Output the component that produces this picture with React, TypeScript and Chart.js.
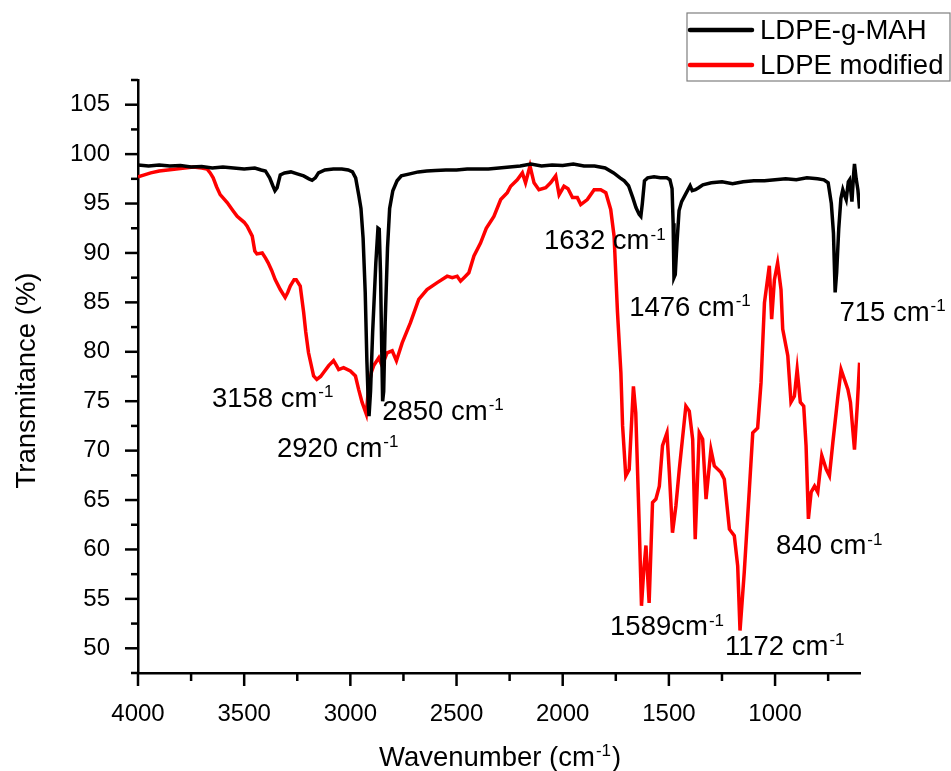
import React, { useEffect, useRef } from "react";
import { Chart, registerables } from "chart.js";

Chart.register(...registerables);

const FONT = '"Liberation Sans", Arial, Helvetica, sans-serif';

// LDPE-g-MAH (black)
const blackWn = [
  4000, 3950, 3900, 3850, 3800, 3750, 3700, 3650, 3600, 3550, 3500, 3450, 3420, 3400, 3380, 3365, 3355, 3345, 3330,
  3310, 3280, 3250, 3220, 3195, 3180, 3165, 3150, 3120, 3080, 3040, 3010, 2990, 2975, 2960, 2950, 2940, 2930, 2922,
  2915, 2912, 2905, 2895, 2880, 2870, 2864, 2858, 2852, 2848, 2843, 2836, 2825, 2815, 2800, 2780, 2760, 2720, 2680,
  2640, 2600, 2550, 2500, 2450, 2400, 2350, 2300, 2250, 2200, 2150, 2100, 2050, 2000, 1950, 1900, 1850, 1800, 1760,
  1730, 1710, 1690, 1670, 1655, 1640, 1632, 1625, 1615, 1600, 1570, 1540, 1510, 1495, 1485, 1480, 1476, 1470, 1462,
  1452, 1440, 1420, 1400, 1390, 1375, 1360, 1340, 1300, 1250, 1200, 1150, 1100, 1050, 1000, 950, 900, 850, 800, 770,
  750, 735, 725, 717, 710, 700, 690, 681, 672, 665, 655, 649, 638, 630, 626, 618, 610, 602,
];
const blackT = [
  98.9, 98.8, 98.9, 98.8, 98.85, 98.7, 98.75, 98.6, 98.7, 98.6, 98.5, 98.6, 98.4, 98.3, 97.6, 96.8, 96.3, 96.6, 97.9,
  98.1, 98.2, 98.0, 97.8, 97.5, 97.35, 97.6, 98.1, 98.4, 98.5, 98.5, 98.4, 98.2, 97.6, 95.8, 94.5, 91.5, 86, 79,
  74.5, 73.5, 76, 82, 89, 92.5, 92.4, 88, 80, 75, 76, 83, 90.5, 94.5, 96.3, 97.3, 97.8, 98.0, 98.2,
  98.3, 98.35, 98.4, 98.4, 98.5, 98.5, 98.5, 98.6, 98.7, 98.8, 99.0, 98.8, 98.9, 98.85, 99.0, 98.8, 98.8, 98.6, 98.1,
  97.6, 97.3, 96.8, 95.6, 94.6, 93.9, 93.7, 95.0, 97.3, 97.6, 97.7, 97.6, 97.6, 97.4, 96.5, 93, 87.5, 87.8, 91,
  94.3, 95.2, 96.0, 96.8, 96.3, 96.4, 96.6, 96.9, 97.1, 97.2, 97.0, 97.2, 97.3, 97.3, 97.4, 97.5, 97.4, 97.6, 97.5, 97.4,
  97.1, 95, 92, 86.0, 88, 92.5, 95.5, 96.4, 95.8, 95.4, 97.2, 97.4, 95.2, 98, 99.0, 97.5, 96.4, 94.5,
];

// LDPE modified (red)
const redWn = [
  4000, 3970, 3940, 3900, 3860, 3820, 3780, 3740, 3700, 3675, 3660, 3646, 3630, 3613, 3580, 3550, 3533, 3500, 3486,
  3462, 3450, 3440, 3415, 3400, 3387, 3370, 3354, 3330, 3307, 3295, 3283, 3265, 3255, 3236, 3220, 3210, 3197, 3173,
  3158, 3140, 3126, 3102, 3079, 3065, 3055, 3032, 3000, 2976, 2961, 2945, 2925, 2914, 2900, 2890, 2866, 2851, 2827,
  2803, 2783, 2756, 2717, 2678, 2639, 2591, 2544, 2520, 2497, 2481, 2460, 2442, 2418, 2387, 2360, 2324, 2292, 2261,
  2245, 2214, 2190, 2175, 2154, 2135, 2112, 2080, 2057, 2033, 2017, 1994, 1975, 1954, 1931, 1915, 1884, 1852, 1821,
  1797, 1774, 1758, 1742, 1726, 1718, 1703, 1687, 1667, 1656, 1640, 1629, 1618, 1608, 1593, 1577, 1561, 1545, 1530,
  1509, 1498, 1483, 1467, 1451, 1420, 1404, 1388, 1376, 1357, 1341, 1325, 1302, 1286, 1255, 1239, 1215, 1192, 1176,
  1165, 1145, 1121, 1105, 1082, 1066, 1050, 1027, 1016, 1003, 988, 972, 964, 940, 925, 909, 896, 881, 865, 854, 843,
  830, 814, 799, 780, 759, 744, 728, 704, 689, 673, 657, 645, 626, 613, 602,
];
const redT = [
  97.7, 97.9, 98.1, 98.3, 98.4, 98.5, 98.6, 98.7, 98.6, 98.5, 98.1, 97.6, 96.7, 95.9, 95.1, 94.2, 93.7, 93.1, 92.7,
  91.7, 90.2, 89.9, 90.0, 89.5, 89.0, 88.2, 87.3, 86.3, 85.5, 86.0, 86.65, 87.3, 87.3, 86.65, 84.0, 82, 79.9, 77.55,
  77.2, 77.5, 77.9, 78.6, 79.1, 78.6, 78.2, 78.4, 78.05, 77.55, 76.2, 74.9, 73.7, 76.5, 78, 78.6, 79.4, 78.6, 79.9,
  80.1, 79.1, 80.9, 82.95, 85.3, 86.3, 87.0, 87.65, 87.5, 87.65, 87.15, 87.6, 88.0, 89.7, 91.0, 92.5, 93.7, 95.4, 96.1,
  96.75, 97.4, 98.1, 97.1, 98.8, 97.1, 96.4, 96.6, 97.1, 97.8, 95.9, 96.75, 96.5, 95.6, 95.6, 94.9, 95.4, 96.4, 96.4,
  96.1, 94.4, 91.7, 84, 77.9, 72.5, 67.45, 68.1, 76.5, 73.85, 62.7, 54.3, 58, 60.4, 54.6, 64.75, 65.1, 66.4, 70.5,
  71.8, 67.8, 61.7, 64.4, 68.1, 74.5, 74.0, 71.15, 61.05, 71.8, 71.15, 65.1, 70.1, 68.45, 67.8, 67.1, 62.05, 61.4, 58.35,
  51.8, 57.7, 66.1, 71.8, 72.3, 76.9, 84.95, 88.7, 83.3, 87.3, 89.0, 86.3, 82.3, 79.6, 74.9, 75.5, 78.2, 74.9, 74.5, 70.5, 63.1,
  65.8, 66.4, 65.8, 69.5, 68.1, 67.45, 70.8, 75.5, 78.2, 77.2, 76.2, 74.9, 70.1, 74.5, 78.9,
];

const seriesNames = ["LDPE-g-MAH", "LDPE modified"];
const seriesColors = ["#000000", "#ff0000"];

// axis ticks (minor every 250 / 2.5, labelled every 500 / 5)
const xTickValues = [
  4000, 3750, 3500, 3250, 3000, 2750, 2500, 2250, 2000, 1750, 1500, 1250, 1000, 750,
];
const yTickValues = [
  47.5, 50, 52.5, 55, 57.5, 60, 62.5, 65, 67.5, 70, 72.5, 75, 77.5, 80, 82.5, 85, 87.5, 90, 92.5, 95, 97.5, 100,
  102.5, 105, 107.5,
];

// peak annotations: text, anchor (left/baseline) in data coordinates
const peakTexts = ["3158 cm", "2920 cm", "2850 cm", "1632 cm", "1476 cm", "715 cm", "1589cm", "1172 cm", "840 cm"];
const peakWn = [3652, 3346, 2850, 2088, 1687, 697, 1777, 1236, 995];
const peakT = [74.4, 69.4, 73.1, 90.35, 83.6, 83.1, 51.3, 49.35, 59.5];

const xTitle = "Wavenumber (cm";
const yTitle = "Transmitance (%)";

function drawSup(ctx: CanvasRenderingContext2D, text: string, x: number, y: number, size: number, align: "left" | "center") {
  const supSize = Math.round(size * 0.62);
  ctx.font = `${size}px ${FONT}`;
  const w1 = ctx.measureText(text).width;
  ctx.font = `${supSize}px ${FONT}`;
  const w2 = ctx.measureText("-1").width;
  let x0 = x;
  if (align === "center") x0 = x - (w1 + w2 + 1) / 2;
  ctx.textAlign = "left";
  ctx.textBaseline = "alphabetic";
  ctx.font = `${size}px ${FONT}`;
  ctx.fillText(text, x0, y);
  ctx.font = `${supSize}px ${FONT}`;
  ctx.fillText("-1", x0 + w1 + 1, y - size * 0.36);
  return x0 + w1 + 1 + w2;
}

const decorPlugin = {
  id: "decor",
  afterDraw(chart: any) {
    const ctx: CanvasRenderingContext2D = chart.ctx;
    const xs = chart.scales.x;
    const ys = chart.scales.y;
    const area = chart.chartArea;
    ctx.save();
    ctx.strokeStyle = "#000";
    ctx.fillStyle = "#000";
    ctx.lineWidth = 2.5;
    // x ticks
    xs.ticks.forEach((t: any) => {
      const px = xs.getPixelForValue(t.value);
      const len = t.value % 500 === 0 ? 13 : 8;
      ctx.beginPath();
      ctx.moveTo(px, area.bottom);
      ctx.lineTo(px, area.bottom + len);
      ctx.stroke();
    });
    // y ticks
    ys.ticks.forEach((t: any) => {
      const py = ys.getPixelForValue(t.value);
      const len = t.value % 5 === 0 ? 13 : 7;
      ctx.beginPath();
      ctx.moveTo(area.left, py);
      ctx.lineTo(area.left - len, py);
      ctx.stroke();
    });
    // peak labels
    peakTexts.forEach((txt, i) => {
      const px = xs.getPixelForValue(peakWn[i]);
      const py = ys.getPixelForValue(peakT[i]);
      drawSup(ctx, txt, px, py, 27.5, "left");
    });
    // x title
    const cx = (area.left + area.right) / 2;
    const end = drawSup(ctx, xTitle, cx - 4, 766, 27.5, "center");
    ctx.font = `27.5px ${FONT}`;
    ctx.fillText(")", end + 1, 766);
    // y title
    ctx.save();
    ctx.translate(35, (area.top + area.bottom) / 2 + 4);
    ctx.rotate(-Math.PI / 2);
    ctx.textAlign = "center";
    ctx.textBaseline = "alphabetic";
    ctx.font = `27.5px ${FONT}`;
    ctx.fillText(yTitle, 0, 0);
    ctx.restore();
    // legend
    const lx = 687, ly = 13, lw = 263, lh = 68;
    ctx.lineWidth = 1.2;
    ctx.strokeStyle = "#7f7f7f";
    ctx.strokeRect(lx, ly, lw, lh);
    chart.data.datasets.forEach((ds: any, i: number) => {
      const yy = ly + 17 + i * 35;
      ctx.strokeStyle = ds.borderColor;
      ctx.lineWidth = 4.5;
      ctx.lineCap = "round";
      ctx.beginPath();
      ctx.moveTo(lx + 3, yy);
      ctx.lineTo(lx + 65, yy);
      ctx.stroke();
      ctx.fillStyle = "#000";
      ctx.font = `27.5px ${FONT}`;
      ctx.textAlign = "left";
      ctx.textBaseline = "middle";
      ctx.fillText(ds.label, lx + 73, yy + 1);
    });
    ctx.restore();
  },
};

export default function App() {
  const ref = useRef<HTMLCanvasElement | null>(null);
  useEffect(() => {
    if (!ref.current) return;
    const chart = new Chart(ref.current, {
      type: "line",
      data: {
        datasets: [
          {
            label: seriesNames[0],
            data: blackWn.map((w, i) => ({ x: w, y: blackT[i] })),
            borderColor: seriesColors[0],
            borderWidth: 3.5,
            pointRadius: 0,
            tension: 0,
            fill: false,
          },
          {
            label: seriesNames[1],
            data: redWn.map((w, i) => ({ x: w, y: redT[i] })),
            borderColor: seriesColors[1],
            borderWidth: 3.5,
            pointRadius: 0,
            tension: 0,
            fill: false,
          },
        ],
      },
      options: {
        responsive: false,
        animation: false,
        events: [],
        layout: { padding: { left: 0, top: 80, right: 91, bottom: 0 } },
        plugins: { legend: { display: false }, tooltip: { enabled: false }, title: { display: false } },
        scales: {
          x: {
            type: "linear",
            reverse: true,
            min: 600,
            max: 4000,
            afterBuildTicks: (s: any) => {
              s.ticks = xTickValues.map((v) => ({ value: v }));
            },
            afterFit: (s: any) => {
              s.height = 98;
            },
            grid: { display: false },
            border: { display: true, color: "#000", width: 2.5 },
            ticks: {
              autoSkip: false,
              maxRotation: 0,
              padding: 19,
              color: "#000",
              font: { family: FONT, size: 24 },
              callback: (v: any) => (Number(v) % 500 === 0 ? String(v) : ""),
            },
          },
          y: {
            type: "linear",
            min: 47.5,
            max: 107.5,
            afterBuildTicks: (s: any) => {
              s.ticks = yTickValues.map((v) => ({ value: v }));
            },
            afterFit: (s: any) => {
              s.width = 138;
            },
            grid: { display: false },
            border: { display: true, color: "#000", width: 2.5 },
            ticks: {
              autoSkip: false,
              padding: 20,
              color: "#000",
              font: { family: FONT, size: 24 },
              callback: (v: any) => (Number(v) % 5 === 0 ? String(v) : ""),
            },
          },
        },
      },
      plugins: [decorPlugin],
    });
    return () => chart.destroy();
  }, []);
  return (
    <div style={{ position: "absolute", left: 0, top: 0, width: 951, height: 771, background: "#fff" }}>
      <canvas ref={ref} width={951} height={771} />
    </div>
  );
}
